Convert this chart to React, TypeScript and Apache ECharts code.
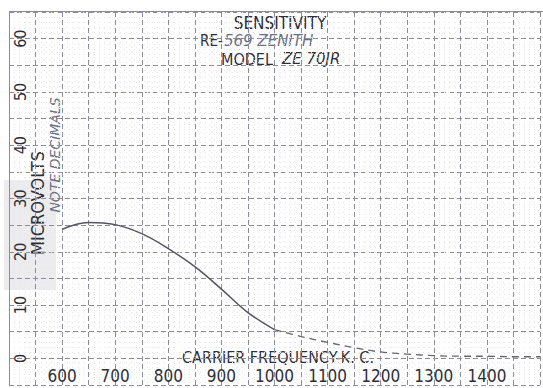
import React, { useEffect, useRef } from "react";
import * as echarts from "echarts";

const solidFreq = [600, 650, 700, 750, 800, 850, 900, 950, 1000];
const solidUv = [24.2, 25.5, 25.1, 23.4, 20.6, 17.2, 13.0, 8.6, 5.4];
const dashFreq = [1000, 1050, 1100, 1150, 1200, 1250, 1300, 1350, 1400, 1450, 1500];
const dashUv = [5.4, 4.1, 3.0, 2.0, 1.2, 0.8, 0.5, 0.4, 0.4, 0.3, 0.3];
const xTickLabels = [600, 700, 800, 900, 1000, 1100, 1200, 1300, 1400];
const yTickLabels = [0, 10, 20, 30, 40, 50, 60];

export default function App() {
  const ref = useRef<HTMLDivElement>(null);
  useEffect(() => {
    if (!ref.current) return;
    const chart = echarts.init(ref.current, null, { renderer: "svg" });
    const ink = "#2e2e38";
    const hand = "#6a6f86";
    const cond = "'DejaVu Sans Condensed', 'Liberation Sans Narrow', sans-serif";
    chart.setOption({
      animation: false,
      backgroundColor: "#ffffff",
      grid: { left: 9, top: 12, width: 535, height: 376, containLabel: false },
      xAxis: {
        type: "value",
        min: 500,
        max: 1500,
        interval: 50,
        axisLine: { show: false },
        axisTick: { show: false },
        axisLabel: {
          inside: true,
          margin: 1,
          color: ink,
          fontSize: 17,
          fontFamily: cond,
          formatter: (v: number) => (xTickLabels.includes(v) ? String(v) : ""),
        },
        splitLine: { show: true, lineStyle: { color: "#8c8c9c", type: [5, 3], width: 1 } },
        minorTick: { show: false, splitNumber: 5 },
        minorSplitLine: { show: true, lineStyle: { color: "#e6e6ec", type: [1, 4], width: 1 } },
      },
      yAxis: {
        type: "value",
        min: -5,
        max: 65,
        interval: 5,
        axisLine: { show: true, lineStyle: { color: "#8c8c9c", width: 1 } },
        axisTick: { show: false },
        axisLabel: {
          inside: true,
          rotate: 90,
          margin: 3,
          color: ink,
          fontSize: 16,
          fontFamily: cond,
          formatter: (v: number) => (yTickLabels.includes(v) ? String(v) : ""),
        },
        splitLine: { show: true, lineStyle: { color: "#8c8c9c", type: [5, 3], width: 1 } },
        minorTick: { show: false, splitNumber: 5 },
        minorSplitLine: { show: true, lineStyle: { color: "#e6e6ec", type: [1, 4], width: 1 } },
      },
      graphic: [
        { type: "rect", shape: { x: 4, y: 180, width: 52, height: 110 }, style: { fill: "rgba(200,200,205,0.35)" }, z: 0 },
        { type: "rect", shape: { x: 9, y: 11, width: 534, height: 1 }, style: { fill: "#8c8c9c" } },
        { type: "text", x: 280, y: 23, style: { text: "SENSITIVITY", fill: ink, font: "17px " + cond, align: "center", verticalAlign: "middle" } },
        { type: "text", x: 200, y: 41, style: { text: "RE-", fill: ink, font: "15px " + cond, align: "left", verticalAlign: "middle" } },
        { type: "text", x: 224, y: 41, style: { text: "569 ZENITH", fill: hand, font: "italic 15px 'DejaVu Sans', sans-serif", align: "left", verticalAlign: "middle" } },
        { type: "text", x: 221, y: 59, style: { text: "MODEL", fill: ink, font: "16px " + cond, align: "left", verticalAlign: "middle" } },
        { type: "text", x: 282, y: 59, style: { text: "ZE 70JR", fill: ink, font: "italic 15px 'DejaVu Sans', sans-serif", align: "left", verticalAlign: "middle" } },
        { type: "text", x: 278, y: 357, style: { text: "CARRIER FREQUENCY-K. C.", fill: ink, font: "16px " + cond, align: "center", verticalAlign: "middle" } },
        { type: "text", x: 37, y: 203, rotation: Math.PI / 2, style: { text: "MICROVOLTS", fill: ink, font: "18px " + cond, align: "center", verticalAlign: "middle" } },
        { type: "text", x: 55, y: 155, rotation: Math.PI / 2, style: { text: "NOTE DECIMALS", fill: hand, font: "italic 14px 'DejaVu Sans', sans-serif", align: "center", verticalAlign: "middle" } },
      ],
      series: [
        {
          type: "line",
          data: solidFreq.map((f, i) => [f, solidUv[i]]),
          smooth: 0.4,
          symbol: "none",
          lineStyle: { color: "#55555f", width: 1.5 },
        },
        {
          type: "line",
          data: dashFreq.map((f, i) => [f, dashUv[i]]),
          smooth: 0.4,
          symbol: "none",
          lineStyle: { color: "#66666f", width: 1.3, type: [7, 5] },
        },
      ],
    });
    return () => chart.dispose();
  }, []);
  return (
    <div
      ref={ref}
      style={{ position: "fixed", left: 0, top: 0, width: 543, height: 388, background: "#fff" }}
    />
  );
}
